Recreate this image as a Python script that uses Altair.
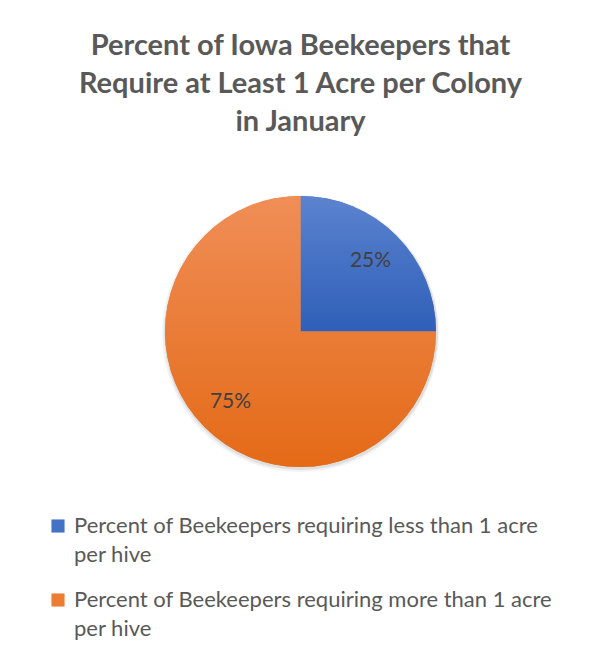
import altair as alt
import pandas as pd

title_lines = ["Percent of Iowa Beekeepers that", "Require at Least 1 Acre per Colony", "in January"]
categories = [
    "Percent of Beekeepers requiring less than 1 acre per hive",
    "Percent of Beekeepers requiring more than 1 acre per hive",
]
values = [25, 75]
labels = ["25%", "75%"]
orders = [0, 1]
solid_colors = ["#4472C4", "#ED7D31"]

df = pd.DataFrame({"category": categories, "value": values, "label": labels, "order": orders})

R = 135.5
theta_scale = alt.Scale(domain=[0, 100])

base = alt.Chart(df).transform_window(
    end="sum(value)", sort=[alt.SortField("order")], frame=[None, 0]
).transform_calculate(
    start="datum.end - datum.value", mid="datum.end - datum.value / 2"
)


def grad(c1, c2):
    return alt.LinearGradient(
        gradient="linear", x1=0, y1=0, x2=0, y2=1,
        stops=[alt.GradientStop(offset=0, color=c1), alt.GradientStop(offset=1, color=c2)],
    )


shadow1 = base.mark_arc(radius=R + 3, fill="#000000", opacity=0.05, yOffset=2).encode(
    theta=alt.Theta("start:Q", scale=theta_scale), theta2="end:Q"
)
shadow2 = base.mark_arc(radius=R + 1.5, fill="#000000", opacity=0.08, yOffset=1.5, xOffset=0.5).encode(
    theta=alt.Theta("start:Q", scale=theta_scale), theta2="end:Q"
)

pie = base.mark_arc(radius=R).encode(
    theta=alt.Theta("start:Q", scale=theta_scale),
    theta2="end:Q",
    color=alt.Color(
        "category:N",
        scale=alt.Scale(domain=categories, range=solid_colors),
        legend=alt.Legend(
            title=None, orient="none", legendX=39, legendY=319, direction="vertical",
            symbolType="square", symbolSize=172, symbolStrokeWidth=0, symbolOpacity=1,
            labelFont="Lato", labelFontSize=22, labelColor="#595959", labelLimit=600,
            labelExpr="[substring(datum.label, 0, lastindexof(datum.label, ' per')), 'per hive']",
            rowPadding=23, labelOffset=5,
        ),
    ),
)

blue = base.transform_filter(alt.datum.order == 0).mark_arc(
    radius=R, fill=grad("#5b83cf", "#2f5fb9")
).encode(theta=alt.Theta("start:Q", scale=theta_scale), theta2="end:Q")

orange = base.transform_filter(alt.datum.order == 1).mark_arc(
    radius=R, fill=grad("#f08e57", "#e46a17")
).encode(theta=alt.Theta("start:Q", scale=theta_scale), theta2="end:Q")

text = base.mark_text(radius=99, font="Lato", fontSize=21, color="#404040").encode(
    theta=alt.Theta("mid:Q", scale=theta_scale), text="label:N"
)

chart = alt.layer(shadow1, shadow2, pie, blue, orange, text).properties(
    width=585, height=271,
    padding={"top": 24, "left": 0, "right": 0, "bottom": 0},
    title=alt.Title(
        title_lines, font="Lato", fontSize=29, fontWeight="bold", color="#595959",
        lineHeight=38, anchor="middle", offset=58,
    ),
).configure_view(stroke=None).configure(
    style={"guide-label": {"lineHeight": 29}}
)

chart.save("out.html", embed_options={"renderer": "svg", "actions": False})
